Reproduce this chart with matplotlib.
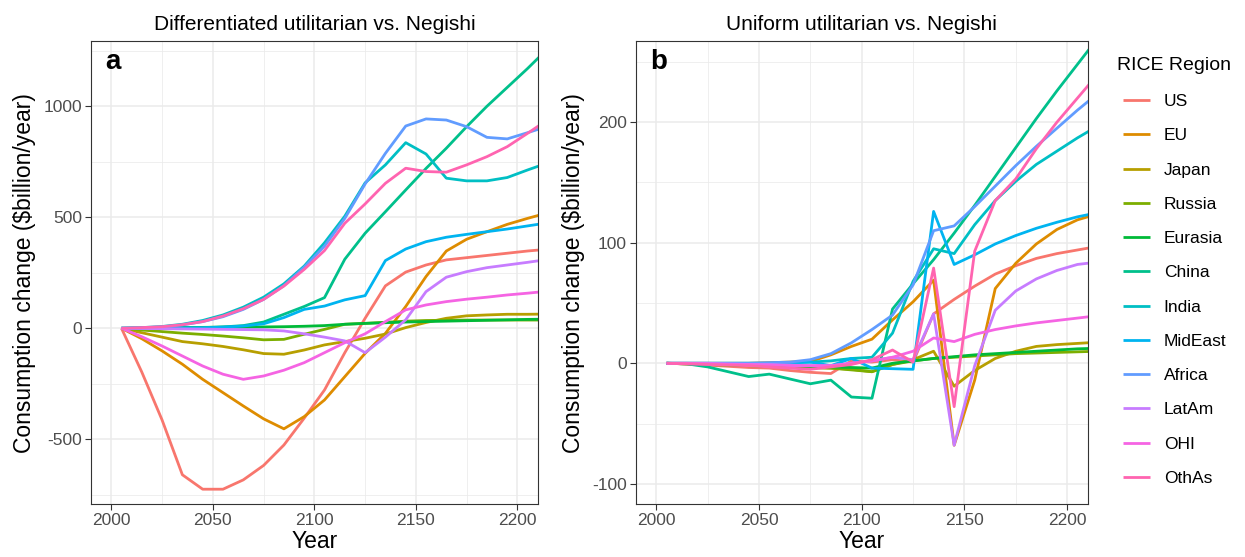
"""
   Consumption change by RICE region: two optimisations compared
   against the Negishi solution.
"""
import matplotlib
matplotlib.use("Agg")
import matplotlib.pyplot as plt
from matplotlib.ticker import MultipleLocator

plt.rcParams['font.family'] = ['Liberation Sans', 'DejaVu Sans']
plt.rcParams['axes.unicode_minus'] = False

# years of the model periods (the last one runs past the visible range)
years = [2005, 2015, 2025, 2035, 2045, 2055, 2065, 2075, 2085, 2095, 2105,
         2115, 2125, 2135, 2145, 2155, 2165, 2175, 2185, 2195, 2205, 2215]

regions = ["US", "EU", "Japan", "Russia", "Eurasia", "China", "India",
           "MidEast", "Africa", "LatAm", "OHI", "OthAs"]
colours = ["#F8766D", "#DE8C00", "#B79F00", "#7CAE00", "#00BA38", "#00C08B",
           "#00BFC4", "#00B4F0", "#619CFF", "#C77CFF", "#F564E3", "#FF64B0"]

# panel a: differentiated utilitarian vs. Negishi ($billion/year)
us_a = [0, -197, -413, -660, -725, -725, -683, -618, -526, -405, -278,
        -110, 45, 191, 253, 285, 308, 318, 328, 338, 348, 356]
eu_a = [0, -47, -102, -162, -230, -290, -350, -408, -453, -398, -323,
        -218, -113, -23, 98, 233, 348, 401, 435, 468, 495, 520]
japan_a = [0, -20, -40, -60, -70, -82, -97, -114, -117, -98, -75,
           -60, -45, -26, 3, 26, 45, 56, 60, 63, 63, 64]
russia_a = [0, -8, -15, -22, -28, -35, -43, -52, -50, -27, -5,
            18, 22, 27, 32, 35, 36, 37, 37, 37, 37, 37]
eurasia_a = [0, 1, 2, 3, 4, 5, 5, 6, 7, 9, 12,
             18, 22, 25, 28, 30, 32, 34, 36, 38, 40, 41]
china_a = [0, 1, 2, 3, 3, 6, 12, 28, 63, 98, 138,
           311, 428, 525, 623, 720, 811, 908, 1000, 1085, 1170, 1260]
india_a = [0, 3, 8, 18, 35, 60, 95, 140, 200, 280, 385,
           505, 655, 736, 836, 785, 676, 664, 664, 679, 713, 745]
mideast_a = [0, 0, 0, 1, 2, 5, 10, 20, 48, 85, 100,
             128, 147, 305, 357, 390, 410, 423, 435, 447, 461, 475]
africa_a = [0, 2, 6, 15, 30, 52, 85, 130, 192, 275, 370,
            495, 650, 788, 911, 943, 938, 908, 860, 853, 881, 910]
latam_a = [0, -1, -2, -3, -4, -5, -6, -7, -12, -25, -40,
           -57, -110, -40, 38, 165, 230, 255, 273, 285, 297, 310]
ohi_a = [0, -38, -80, -125, -170, -207, -230, -215, -189, -155, -110,
         -65, -25, 30, 83, 105, 120, 131, 140, 150, 158, 167]
othas_a = [0, 3, 7, 16, 30, 55, 88, 130, 190, 265, 350,
           473, 560, 653, 721, 706, 703, 736, 773, 818, 878, 940]

# panel b: uniform utilitarian vs. Negishi ($billion/year)
us_b = [0, -0.5, -1.5, -2.5, -3.5, -4, -6, -7.5, -8.5, 2, 1,
        3, 1, 41, 53, 64, 74, 81, 87, 91, 94, 97]
eu_b = [0, 0, 0, 0, 0, 0.5, 1, 1.5, 7, 14, 20,
        36, 51, 69, -68, -14, 62, 83, 99, 111, 119, 124]
japan_b = [0, -0.5, -1, -1.5, -2, -2.5, -3, -3.5, -4, -5, -7,
           -1, 3, 10, -19, -6, 4, 10, 14, 15.5, 16.5, 17.5]
russia_b = [0, -0.5, -1, -1.5, -2, -2.5, -3, -3.5, -4, -5.5, -7,
            -1, 2, 4, 5, 6, 7, 8, 8.5, 9, 9.5, 10]
eurasia_b = [0, -0.3, -0.6, -1, -1.3, -1.6, -2, -2.5, -3, -3.5, -4,
             0, 2, 4, 5.5, 7, 8, 9, 10, 11, 12, 12.5]
china_b = [0, -0.5, -3, -7, -11, -9, -13, -17, -14, -28, -29,
           45, 66, 86, 108, 131, 155, 179, 203, 226, 248, 270]
india_b = [0, 0, 0, 0, 0, 0, 0.5, 1, 2, 4, 5,
           25, 68, 95, 91, 115, 135, 151, 165, 176, 187, 197]
mideast_b = [0, 0, 0, 0, 0, 0, 0.5, 1, -2, 4, -4,
             -4.5, -5, 126, 82, 90, 99, 106, 112, 117, 121.5, 125]
africa_b = [0, 0, 0, 0, 0, 0.5, 1, 3, 8, 17, 28,
            40, 65, 110, 114, 130, 147, 164, 180, 195, 210, 224]
latam_b = [0, 0, 0, -0.5, -1, -1, -1.5, -2, -2, 0, 2,
           5, 3, 41, -68, -2, 44, 60, 70, 77, 82, 84]
ohi_b = [0, 0, -0.5, -1, -1, -1.5, -2, -2, -2, 0, 2,
         5, 10, 21, 18, 24, 28, 31, 33.5, 35.5, 37.5, 39.5]
othas_b = [0, -0.5, -1, -1.5, -2, -3, -4, -5, -3, -1, 3,
           11, 1, 79, -36, 93, 135, 153, 178, 200, 220, 240]

panel_a = [us_a, eu_a, japan_a, russia_a, eurasia_a, china_a,
           india_a, mideast_a, africa_a, latam_a, ohi_a, othas_a]
panel_b = [us_b, eu_b, japan_b, russia_b, eurasia_b, china_b,
           india_b, mideast_b, africa_b, latam_b, ohi_b, othas_b]

W, H = 1245, 557
fig = plt.figure(figsize=(W / 100, H / 100), dpi=100)

def box(left, top, right, bottom):
    """axes rectangle from pixel edges"""
    return [left / W, 1 - bottom / H, (right - left) / W, (bottom - top) / H]

ax1 = fig.add_axes(box(91, 41, 537.7, 504.3))
ax2 = fig.add_axes(box(635.7, 41, 1087.7, 504.3))

def style(ax, ylim, ymajor, title, tag):
    ax.set_xlim(1990, 2210)
    ax.set_ylim(*ylim)
    ax.xaxis.set_major_locator(MultipleLocator(50))
    ax.xaxis.set_minor_locator(MultipleLocator(25))
    ax.yaxis.set_major_locator(MultipleLocator(ymajor))
    ax.yaxis.set_minor_locator(MultipleLocator(ymajor / 2))
    ax.grid(which="major", color="#EBEBEB", linewidth=1.1, zorder=0)
    ax.grid(which="minor", color="#EBEBEB", linewidth=0.55, zorder=0)
    ax.set_axisbelow(True)
    for s in ax.spines.values():
        s.set_color("#333333")
        s.set_linewidth(0.8)
    ax.tick_params(which="major", direction="out", length=4, width=0.8,
                   color="#333333", labelcolor="#4D4D4D", labelsize=12.5, pad=2.5)
    ax.tick_params(which="minor", length=0)
    ax.set_xlabel("Year", fontsize=16.5, labelpad=1)
    ax.set_ylabel("Consumption change ($billion/year)", fontsize=16.5, labelpad=5)
    ax.set_title(title, fontsize=15, pad=8)
    ax.text(0.05, 0.955, tag, transform=ax.transAxes, fontsize=20,
            fontweight="bold", ha="center", va="center")

for ax, series in [(ax1, panel_a), (ax2, panel_b)]:
    for name, col, vals in zip(regions, colours, series):
        ax.plot(years, vals, color=col, linewidth=2.0, label=name,
                solid_capstyle="butt", solid_joinstyle="round")

style(ax1, (-793, 1294), 500, "Differentiated utilitarian vs. Negishi", "a")
style(ax2, (-117, 267.4), 100, "Uniform utilitarian vs. Negishi", "b")

# legend: title placed on its own so the keys sit slightly indented
fig.text(1117 / W, 1 - 66 / H, "RICE Region", fontsize=14, va="center", ha="left")
handles, labels = ax1.get_legend_handles_labels()
leg = fig.legend(handles, labels, loc="upper left",
                 bbox_to_anchor=(1123 / W, 1 - 94 / H), frameon=False,
                 fontsize=12.5, handlelength=1.55, handletextpad=0.8,
                 labelspacing=1.1, borderpad=0, borderaxespad=0)

fig.savefig("out.png", dpi=100)
